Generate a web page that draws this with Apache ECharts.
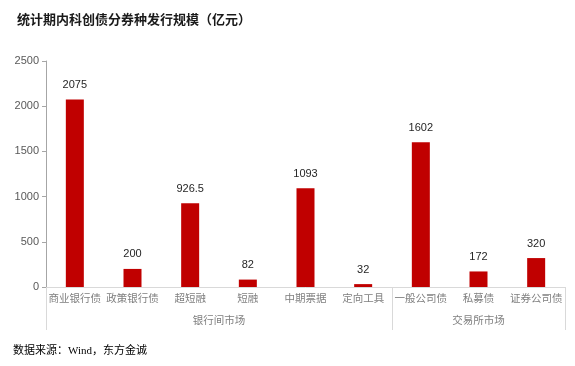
<!DOCTYPE html>
<html><head><meta charset="utf-8">
<script src="https://cdn.jsdelivr.net/npm/echarts@6/dist/echarts.min.js"></script>
<style>html,body{margin:0;padding:0;background:#fff}#c{width:575px;height:366px}</style>
</head><body><div id="c"></div>
<script>
const categories = ['商业银行债','政策银行债','超短融','短融','中期票据','定向工具','一般公司债','私募债','证券公司债'];
const values = [2075, 200, 926.5, 82, 1093, 32, 1602, 172, 320];
const groupNames = ['银行间市场','交易所市场'];
const groupBounds = [0, 6, 9];
const groupCenters = [3, 7.5];
const yTicks = [0, 500, 1000, 1500, 2000, 2500];

const cjk = '"Noto Sans CJK SC", sans-serif';
const chart = echarts.init(document.getElementById('c'));
chart.setOption({
  animation: false,
  title: {
    text: '统计期内科创债分券种发行规模（亿元）',
    left: 12, top: 8,
    textStyle: {fontFamily: cjk, fontSize: 13, fontWeight: 'bold', color: '#1a1a1a'}
  },
  graphic: [{
    type: 'text', left: 13, top: 346,
    style: {text: '数据来源：Wind，东方金诚', font: '11px "Liberation Serif", "Noto Sans CJK SC", serif', fill: '#000'}
  }],
  grid: {left: 46, right: 10, top: 61, bottom: 79, containLabel: false},
  xAxis: [{
    type: 'category', data: categories, position: 'bottom',
    axisLine: {show: true, lineStyle: {color: '#d9d9d9'}},
    axisTick: {show: false},
    axisLabel: {interval: 0, margin: 6, color: '#7f7f7f', fontSize: 10.5, fontFamily: cjk}
  }, {
    type: 'value', min: groupBounds[0], max: groupBounds[2], position: 'bottom',
    axisLine: {show: false},
    splitLine: {show: false},
    axisTick: {show: true, customValues: groupBounds, length: 43, lineStyle: {color: '#d9d9d9'}},
    axisLabel: {customValues: groupCenters, margin: 28, color: '#7f7f7f', fontSize: 10.5, fontFamily: cjk,
      formatter: v => groupNames[groupCenters.indexOf(v)]}
  }],
  yAxis: {
    type: 'value', min: yTicks[0], max: yTicks[yTicks.length - 1], interval: 500,
    axisLine: {show: true, lineStyle: {color: '#a6a6a6'}},
    axisTick: {show: true, length: 4, lineStyle: {color: '#a6a6a6'}},
    splitLine: {show: false},
    axisLabel: {color: '#595959', fontSize: 11, fontFamily: 'Liberation Sans, Arial', margin: 7,
      formatter: v => String(v)}
  },
  series: [{
    type: 'bar', xAxisIndex: 0, data: values, barWidth: 18,
    itemStyle: {color: '#c00000'},
    label: {show: true, position: 'top', distance: 9, color: '#262626', fontSize: 11, fontFamily: 'Liberation Sans, Arial'}
  }]
});
</script></body></html>
